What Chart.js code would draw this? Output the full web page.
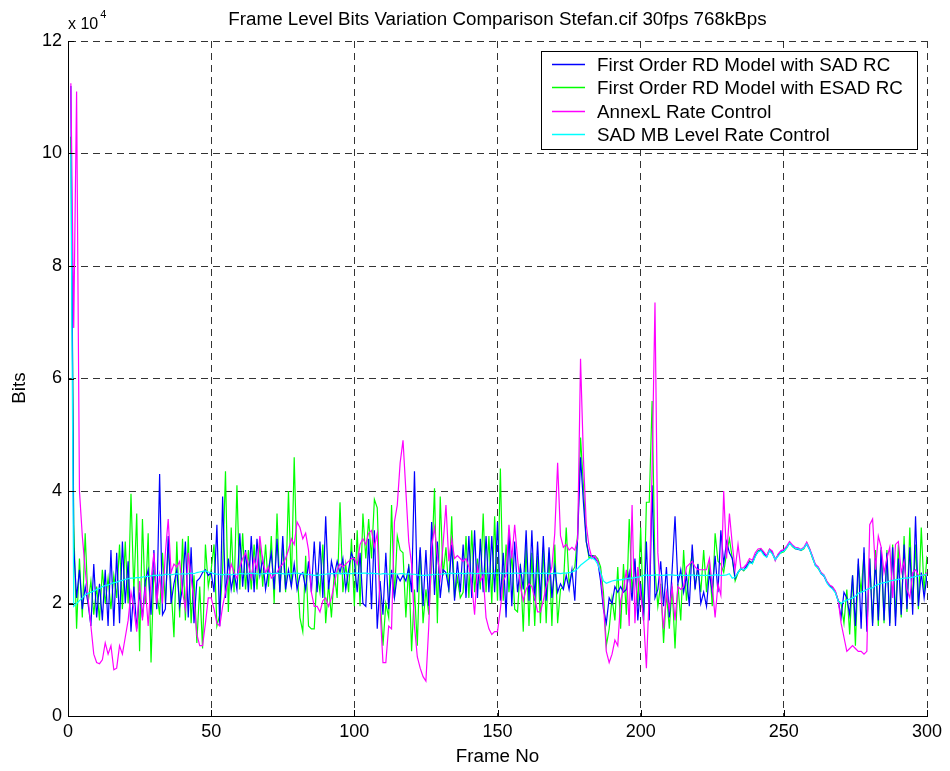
<!DOCTYPE html>
<html>
<head>
<meta charset="utf-8">
<title>Frame Level Bits Variation Comparison</title>
<script src="https://cdn.jsdelivr.net/npm/chart.js@4.4.1/dist/chart.umd.min.js"></script>
<style>
  html, body { margin: 0; padding: 0; background: #fff; }
  canvas { display: block; }
</style>
</head>
<body>
<canvas id="chart" width="950" height="771"></canvas>
<script>
// Bits per frame, in units of 1e4 bits (the axis carries the "x 10^4" factor)
const frames = Array.from({ length: 300 }, (_, i) => i + 1);

const sadRc = [
  11.2, 3.0, 2.1, 2.6, 1.9, 2.3, 2.0, 1.6, 2.7, 1.75,
  2.35, 1.7, 2.6, 1.6, 2.95, 1.6, 2.9, 1.65, 3.1, 2.0,
  2.75, 1.5, 2.3, 1.55, 2.2, 1.75, 2.4, 2.6, 1.8, 2.95,
  1.9, 4.3, 1.8, 1.9, 3.2, 2.0, 2.35, 2.6, 1.95, 2.3,
  3.1, 1.75, 3.0, 1.65, 2.4, 2.45, 2.55, 2.6, 2.5, 2.55,
  2.2, 3.4, 1.6, 3.9, 2.1, 2.8, 2.25, 2.55, 2.25, 3.25,
  2.3, 2.95, 2.2, 3.2, 2.2, 3.15, 2.5, 2.8, 2.25, 2.6,
  2.9, 2.25, 3.15, 2.2, 3.2, 2.25, 2.6, 2.3, 2.7, 2.25,
  2.5, 2.55, 2.25, 2.75, 2.2, 3.1, 2.2, 3.1, 2.1, 3.55,
  2.25, 2.75, 2.5, 2.75, 2.55, 2.8, 2.25, 2.6, 2.9, 2.75,
  2.2, 2.9, 2.0, 1.95, 3.15, 1.9, 3.3, 1.55, 2.4, 1.8,
  2.9, 1.9, 2.6, 2.1, 2.5, 2.4, 2.5, 2.4, 2.65, 2.2,
  4.35, 2.2, 3.0, 1.95, 2.95, 1.95, 3.45, 2.15, 3.1, 2.1,
  2.6, 2.55, 2.25, 3.05, 2.05, 2.75, 2.2, 3.05, 2.1, 3.2,
  2.1, 3.3, 2.1, 3.15, 2.2, 3.2, 2.2, 3.2, 2.2, 3.45,
  2.05, 2.9, 1.75, 3.3, 1.95, 3.1, 2.2, 2.65, 2.25, 3.3,
  2.05, 3.3, 2.05, 3.1, 2.05, 3.2, 2.05, 3.0, 2.1, 2.65,
  2.2, 2.35, 2.25, 2.5, 2.25, 2.6, 2.05, 3.2, 4.6, 3.8,
  3.1, 2.85, 2.85, 2.8, 2.75, 2.4, 1.9, 1.65, 2.1, 2.0,
  2.3, 2.2, 2.3, 2.2, 2.25, 2.55, 2.05, 2.8, 1.7, 2.35,
  1.7, 3.1, 1.7, 4.1, 2.1, 2.25, 2.75, 1.95, 2.65, 1.75,
  2.6, 3.55, 2.35, 2.6, 2.2, 2.5, 1.95, 3.05, 2.25, 2.7,
  2.0, 2.2, 1.95, 2.55, 2.2, 2.85, 2.2, 3.3, 2.7, 3.1,
  2.9, 2.8, 2.45, 2.56, 2.61, 2.6, 2.67, 2.74, 2.73, 2.85,
  2.92, 2.95, 2.89, 2.83, 2.94, 2.9, 2.79, 2.85, 2.92, 2.94,
  3.0, 3.07, 3.03, 2.98, 2.96, 2.95, 2.99, 3.06, 2.96, 2.83,
  2.68, 2.64, 2.53, 2.49, 2.38, 2.31, 2.27, 2.2, 2.05, 1.75,
  2.2, 2.1, 1.8, 2.5, 1.6, 2.8, 1.55, 3.0, 1.5, 2.8,
  1.6, 2.8, 1.7, 3.0, 1.7, 2.9, 1.6, 3.0, 1.6, 2.8,
  1.8, 3.05, 1.9, 3.0, 1.8, 3.55, 1.95, 2.55, 2.1, 2.5
];

const esadRc = [
  10.3, 3.4, 1.55, 2.8, 1.75, 3.25, 2.0, 2.4, 1.8, 2.3,
  1.7, 2.6, 2.0, 2.45, 1.9, 2.5, 2.1, 3.05, 1.9, 3.1,
  2.0, 3.95, 2.2, 3.6, 1.15, 3.5, 2.0, 3.25, 0.95, 2.6,
  2.2, 1.8, 2.9, 2.0, 3.0, 2.3, 1.4, 3.1, 1.75, 3.15,
  1.7, 3.2, 1.65, 2.5, 1.3, 2.3, 1.2, 3.05, 2.3, 2.6,
  3.05, 1.6, 1.8, 2.6, 4.35, 1.85, 3.35, 2.2, 4.1, 2.25,
  3.25, 2.25, 2.95, 2.25, 3.05, 2.25, 3.1, 2.3, 3.05, 2.3,
  3.2, 2.0, 3.6, 2.2, 3.05, 2.2, 4.0, 2.3, 4.6, 2.6,
  1.75, 1.5, 2.85, 1.6, 1.55, 1.55, 2.55, 2.2, 3.05, 1.65,
  2.35, 1.75, 2.55, 2.1, 3.8, 2.2, 2.7, 2.2, 3.15, 1.95,
  3.3, 1.95, 3.6, 2.8, 3.5, 2.8, 3.85, 3.7, 2.1, 1.25,
  2.0, 1.75, 3.75, 2.1, 3.2, 2.95, 2.9, 1.75, 2.7, 1.15,
  2.25, 1.25, 2.95, 1.65, 2.25, 1.8, 2.7, 4.05, 1.65, 3.9,
  2.5, 3.0, 2.2, 3.55, 2.1, 2.45, 2.1, 2.2, 3.2, 2.1,
  3.3, 2.2, 2.8, 2.25, 3.6, 2.2, 3.2, 2.0, 3.55, 2.05,
  4.4, 2.05, 3.05, 2.2, 2.9, 1.9, 1.85, 2.7, 1.5, 3.05,
  1.6, 2.9, 1.6, 2.85, 1.65, 3.0, 1.65, 2.9, 1.6, 3.05,
  1.65, 2.25, 2.3, 3.35, 2.35, 2.55, 2.65, 3.25, 4.95, 4.1,
  3.1, 2.8, 2.85, 2.85, 2.8, 2.65, 2.2, 1.25, 1.55, 2.1,
  1.7, 2.65, 1.55, 2.7, 1.8, 3.5, 2.2, 2.75, 1.95, 3.35,
  1.7, 3.8, 3.8, 5.6, 2.6, 1.95, 2.35, 1.3, 2.2, 1.55,
  2.3, 1.2, 2.35, 1.7, 2.95, 2.05, 2.55, 2.9, 2.3, 2.65,
  2.2, 2.95, 2.2, 2.75, 1.95, 3.25, 2.75, 2.7, 2.55, 2.9,
  3.15, 2.8, 2.4, 2.54, 2.63, 2.58, 2.65, 2.76, 2.71, 2.84,
  2.94, 2.96, 2.87, 2.84, 2.96, 2.89, 2.77, 2.87, 2.9, 2.92,
  2.99, 3.08, 3.01, 2.97, 2.98, 2.94, 2.97, 3.08, 2.97, 2.81,
  2.69, 2.62, 2.55, 2.5, 2.39, 2.32, 2.29, 2.21, 2.05, 2.0,
  1.65, 2.25, 1.45, 2.5, 1.25, 2.7, 2.2, 2.9, 1.6, 2.8,
  1.65, 2.95, 1.6, 2.95, 1.65, 2.95, 1.65, 3.05, 1.75, 3.05,
  1.75, 3.2, 1.85, 3.35, 1.95, 3.05, 1.9, 3.35, 2.2, 2.85
];

const annexL = [
  11.25, 6.9, 11.1, 4.0, 3.2, 2.6, 2.1, 1.6, 1.1, 0.95,
  0.93, 1.0, 1.3, 1.1, 1.25, 0.82, 0.85, 1.25, 1.1, 1.4,
  1.7, 2.2, 1.9, 1.5, 2.4, 1.7, 2.3, 1.6, 2.4, 2.9,
  2.0, 2.5, 2.0, 2.9, 3.5, 2.55, 2.7, 2.65, 2.75, 2.2,
  1.9, 2.9, 2.45, 2.05, 1.45, 1.25, 1.25, 1.65, 2.1, 2.1,
  1.9, 1.65, 1.6, 1.95, 2.2, 2.45, 2.7, 2.55, 2.45, 2.65,
  2.8, 2.9, 2.7, 2.45, 2.8, 2.6, 3.2, 2.75, 2.55, 2.65,
  2.45, 2.5, 2.55, 2.65, 2.7, 2.8, 2.95, 3.15, 3.05, 3.45,
  3.35, 3.15, 3.25, 2.95, 2.2, 1.95, 1.95, 1.85, 2.05, 2.1,
  1.95, 2.1, 2.35, 2.6, 2.7, 2.65, 2.7, 2.75, 2.8, 2.8,
  2.7, 3.05, 3.15, 3.05, 3.25, 3.3, 3.0, 3.25, 1.9, 0.95,
  0.95, 1.6, 1.55, 3.45, 3.75, 4.5, 4.9, 4.0, 3.1, 2.7,
  1.6, 1.05, 0.85, 0.7, 0.62, 1.6, 3.0, 3.35, 2.85, 2.45,
  3.05, 3.75, 2.75, 3.15, 2.8, 2.85, 2.8, 2.75, 2.8, 2.65,
  2.35, 1.8, 2.65, 2.4, 2.5, 1.75, 1.55, 1.45, 1.5, 1.5,
  1.9, 2.4, 2.5, 3.4, 2.8, 3.4, 2.8, 2.3, 2.05, 2.25,
  2.35, 2.3, 2.1, 1.85, 1.85, 2.05, 2.3, 2.45, 2.65, 3.25,
  4.5, 3.2, 3.0, 3.05, 2.95, 3.0, 2.95, 3.15, 6.35, 4.6,
  3.4, 3.0, 2.8, 2.85, 2.75, 2.55, 2.0, 1.15, 0.95, 1.1,
  1.35, 1.25, 2.05, 2.25, 2.6, 1.6, 3.75, 1.65, 2.65, 2.15,
  1.75, 0.85, 2.2, 4.4, 7.35, 2.9, 2.2, 1.55, 2.2, 1.9,
  2.3, 1.7, 2.3, 2.25, 2.3, 2.65, 2.7, 2.75, 2.65, 2.6,
  2.6, 2.6, 2.6, 2.8, 2.3, 1.75, 2.35, 2.15, 4.0, 2.8,
  3.6, 3.05, 2.6, 3.05, 2.62, 2.64, 2.7, 2.8, 2.77, 2.9,
  2.97, 2.98, 2.92, 2.85, 2.97, 2.93, 2.76, 2.88, 2.94, 2.96,
  3.02, 3.1, 3.04, 3.0, 2.99, 2.96, 3.0, 3.09, 2.98, 2.84,
  2.7, 2.65, 2.55, 2.51, 2.4, 2.33, 2.3, 2.22, 2.05, 1.65,
  1.4, 1.15, 1.2, 1.25, 1.2, 1.15, 1.15, 1.1, 1.15, 3.4,
  3.5, 2.6, 3.2, 3.0, 2.55, 2.8, 3.0, 2.1, 3.05, 3.1,
  2.55, 2.75, 2.25, 2.1, 2.55, 2.6, 2.5, 2.5, 2.5, 2.55
];

const sadMb = [
  10.0, 1.95, 2.0, 2.05, 2.1, 2.15, 2.18, 2.2, 2.22, 2.25,
  2.27, 2.3, 2.32, 2.33, 2.35, 2.37, 2.38, 2.4, 2.41, 2.43,
  2.44, 2.45, 2.45, 2.46, 2.46, 2.47, 2.48, 2.48, 2.49, 2.5,
  2.5, 2.51, 2.5, 2.52, 2.52, 2.51, 2.52, 2.53, 2.52, 2.53,
  2.52, 2.53, 2.54, 2.53, 2.55, 2.56, 2.57, 2.58, 2.56, 2.55,
  2.53, 2.52, 2.52, 2.51, 2.52, 2.52, 2.51, 2.52, 2.52, 2.53,
  2.53, 2.52, 2.53, 2.54, 2.53, 2.53, 2.52, 2.53, 2.53, 2.54,
  2.53, 2.53, 2.54, 2.53, 2.53, 2.52, 2.53, 2.53, 2.54, 2.54,
  2.53, 2.53, 2.52, 2.52, 2.51, 2.5, 2.5, 2.51, 2.52, 2.52,
  2.53, 2.53, 2.53, 2.54, 2.53, 2.53, 2.54, 2.53, 2.53, 2.54,
  2.54, 2.53, 2.54, 2.54, 2.53, 2.54, 2.53, 2.53, 2.52, 2.53,
  2.53, 2.52, 2.53, 2.53, 2.52, 2.53, 2.53, 2.52, 2.53, 2.52,
  2.52, 2.51, 2.5, 2.5, 2.5, 2.51, 2.51, 2.52, 2.52, 2.52,
  2.53, 2.53, 2.53, 2.54, 2.53, 2.53, 2.54, 2.53, 2.53, 2.54,
  2.54, 2.53, 2.53, 2.54, 2.54, 2.53, 2.54, 2.53, 2.54, 2.54,
  2.54, 2.53, 2.54, 2.54, 2.53, 2.54, 2.54, 2.53, 2.54, 2.54,
  2.54, 2.53, 2.54, 2.54, 2.53, 2.54, 2.54, 2.53, 2.53, 2.54,
  2.54, 2.53, 2.54, 2.54, 2.55, 2.56, 2.58, 2.62, 2.68, 2.72,
  2.76, 2.8, 2.81, 2.78, 2.7, 2.55, 2.4, 2.36, 2.38, 2.4,
  2.41, 2.42, 2.42, 2.43, 2.44, 2.45, 2.45, 2.46, 2.47, 2.48,
  2.5, 2.51, 2.5, 2.5, 2.51, 2.51, 2.5, 2.5, 2.51, 2.51,
  2.51, 2.5, 2.5, 2.51, 2.5, 2.5, 2.5, 2.51, 2.5, 2.5,
  2.5, 2.5, 2.5, 2.5, 2.5, 2.51, 2.51, 2.5, 2.5, 2.51,
  2.53, 2.45, 2.47, 2.55, 2.62, 2.6, 2.63, 2.72, 2.71, 2.83,
  2.92, 2.94, 2.86, 2.82, 2.94, 2.88, 2.78, 2.84, 2.91, 2.93,
  2.99, 3.07, 3.02, 2.98, 2.97, 2.95, 2.98, 3.06, 2.95, 2.82,
  2.67, 2.63, 2.53, 2.5, 2.37, 2.3, 2.26, 2.19, 2.04, 2.0,
  2.04, 2.06, 2.08, 2.1, 2.13, 2.18, 2.2, 2.22, 2.25, 2.27,
  2.28, 2.32, 2.34, 2.36, 2.37, 2.38, 2.4, 2.41, 2.42, 2.43,
  2.44, 2.45, 2.45, 2.46, 2.47, 2.48, 2.49, 2.5, 2.51, 2.52
];

const seriesNames = [
  'First Order RD Model with SAD RC',
  'First Order RD Model with ESAD RC',
  'AnnexL Rate Control',
  'SAD MB Level Rate Control'
];
const seriesColors = ['#0000ff', '#00ff00', '#ff00ff', '#00ffff'];
const titleText = 'Frame Level Bits Variation Comparison Stefan.cif 30fps 768kBps';

const FONT = '"Liberation Sans", Arial, Helvetica, sans-serif';
const TICK_SIZE = 18;
const TEXT_SIZE = 18.8;

// Title, exponent note, y label, inward tick marks and the boxed legend
const matlabDecor = {
  id: 'matlabDecor',
  afterDraw(chart) {
    const { ctx, chartArea: { left, right, top, bottom }, scales: { x, y } } = chart;
    ctx.save();

    ctx.strokeStyle = '#000';
    ctx.lineWidth = 1;
    ctx.beginPath();
    x.ticks.forEach((t) => {
      const px = Math.round(x.getPixelForValue(t.value)) + 0.5;
      ctx.moveTo(px, bottom);
      ctx.lineTo(px, bottom - 6);
    });
    y.ticks.forEach((t) => {
      const py = Math.round(y.getPixelForValue(t.value)) + 0.5;
      ctx.moveTo(left, py);
      ctx.lineTo(left + 6, py);
    });
    ctx.stroke();

    ctx.fillStyle = '#000';
    ctx.font = `${TEXT_SIZE}px ${FONT}`;
    ctx.textBaseline = 'alphabetic';
    ctx.textAlign = 'center';
    ctx.fillText(titleText, (left + right) / 2, 25);

    ctx.save();
    ctx.translate(20, 388);
    ctx.rotate(-Math.PI / 2);
    ctx.textBaseline = 'middle';
    ctx.fillText('Bits', 0, 0);
    ctx.restore();

    ctx.textAlign = 'left';
    ctx.font = `16px ${FONT}`;
    ctx.fillText('x 10', left, 29);
    const expX = left + ctx.measureText('x 10').width + 2;
    ctx.font = `11px ${FONT}`;
    ctx.fillText('4', expX, 18);

    // legend box in the upper right corner
    ctx.font = `${TEXT_SIZE}px ${FONT}`;
    const textW = Math.max(...seriesNames.map((n) => ctx.measureText(n).width));
    const boxW = Math.round(56 + textW + 14);
    const boxH = 98;
    const bx = Math.round(right - 10 - boxW);
    const by = top + 10;
    ctx.fillStyle = '#fff';
    ctx.fillRect(bx, by, boxW, boxH);
    ctx.strokeStyle = '#000';
    ctx.strokeRect(bx + 0.5, by + 0.5, boxW, boxH);
    ctx.textBaseline = 'middle';
    chart.data.datasets.forEach((ds, i) => {
      const cy = Math.round(by + 13 + i * 23.3) + 0.5;
      ctx.strokeStyle = ds.borderColor;
      ctx.lineWidth = 1.5;
      ctx.beginPath();
      ctx.moveTo(bx + 11, cy);
      ctx.lineTo(bx + 44, cy);
      ctx.stroke();
      ctx.fillStyle = '#000';
      ctx.fillText(ds.label, bx + 56, cy + 1);
    });

    ctx.restore();
  }
};

const tickFont = { size: TICK_SIZE, family: FONT };
const gridStyle = { color: 'rgba(0,0,0,0.8)', lineWidth: 1, drawTicks: false };

new Chart(document.getElementById('chart'), {
  type: 'line',
  data: {
    labels: frames,
    datasets: [
      { label: seriesNames[0], data: sadRc, borderColor: seriesColors[0], order: 2 },
      { label: seriesNames[1], data: esadRc, borderColor: seriesColors[1], order: 3 },
      { label: seriesNames[2], data: annexL, borderColor: seriesColors[2], order: 1 },
      { label: seriesNames[3], data: sadMb, borderColor: seriesColors[3], order: 0 }
    ]
  },
  options: {
    responsive: false,
    animation: false,
    layout: { padding: { top: 41, right: 23, bottom: 0, left: 0 } },
    elements: {
      point: { radius: 0 },
      line: { borderWidth: 1.2, tension: 0, fill: false }
    },
    plugins: {
      legend: { display: false },
      tooltip: { enabled: false },
      title: { display: false }
    },
    scales: {
      x: {
        type: 'linear',
        min: 0,
        max: 300,
        afterFit: (s) => { s.height = 55; },
        ticks: { stepSize: 50, color: '#000', font: tickFont, padding: 5, maxRotation: 0 },
        grid: gridStyle,
        border: { display: true, color: '#000', width: 1, dash: [7, 5] },
        title: {
          display: true, text: 'Frame No', color: '#000',
          font: { size: TEXT_SIZE, family: FONT }, padding: { bottom: 3 }
        }
      },
      y: {
        min: 0,
        max: 12,
        afterFit: (s) => { s.width = 68; },
        ticks: { stepSize: 2, color: '#000', font: tickFont, padding: 6 },
        grid: gridStyle,
        border: { display: true, color: '#000', width: 1, dash: [7, 5] }
      }
    }
  },
  plugins: [matlabDecor]
});
</script>
</body>
</html>
